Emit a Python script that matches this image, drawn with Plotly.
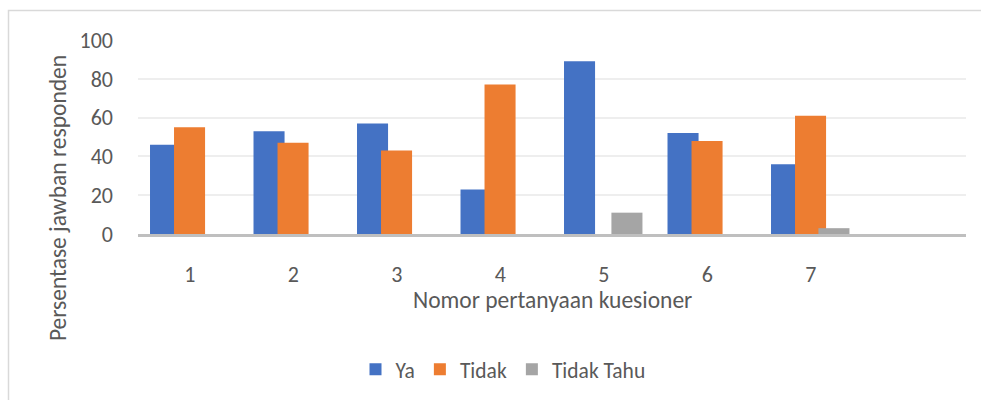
import plotly.graph_objects as go

categories = ["1", "2", "3", "4", "5", "6", "7", " "]
ya = [46, 53, 57, 23, 89, 52, 36, None]
tidak = [55, 47, 43, 77, 0, 48, 61, None]
tidak_tahu = [0, 0, 0, 0, 11, 0, 3, None]
y_ticks = [0, 20, 40, 60, 80, 100]

FONT = "Calibri, Carlito, Lato, sans-serif"
TXT = "#595959"

W, H = 981, 400
L, T = 138, 40
PLOT_BOTTOM = 234.5
B = H - PLOT_BOTTOM
R = 981 - 966
PH = PLOT_BOTTOM - T
PW = W - L - R


def px_x(x):
    return (x - L) / PW


def px_y(y):
    return (PLOT_BOTTOM - y) / PH


fig = go.Figure()
series = [
    ("Ya", ya, "#4472C4", -0.384),
    ("Tidak", tidak, "#ED7D31", -0.152),
    ("Tidak Tahu", tidak_tahu, "#A5A5A5", 0.074),
]
for name, vals, col, off in series:
    fig.add_trace(go.Bar(
        x=categories, y=vals, name=name,
        marker=dict(color=col, line=dict(width=0)),
        width=0.30, offset=off,
    ))

fig.update_layout(
    width=W, height=H,
    barmode="overlay",
    paper_bgcolor="white", plot_bgcolor="white",
    margin=dict(l=L, r=R, t=T, b=B, autoexpand=False),
    font=dict(family=FONT, size=22, color=TXT),
    showlegend=True,
    legend=dict(orientation="h", x=px_x(503), xanchor="center", y=px_y(370), yanchor="middle",
                font=dict(size=21.5, color=TXT), itemwidth=30, traceorder="normal"),
    xaxis=dict(type="category", categoryorder="array", categoryarray=categories,
               range=[-0.5, 7.5], showgrid=False, showline=True, linecolor="#BFBFBF",
               linewidth=3, ticks="", ticklabelstandoff=19,
               tickfont=dict(size=22, color=TXT)),
    yaxis=dict(range=[0, 100], tickvals=y_ticks, showgrid=True, gridcolor="#EEEEEE",
               gridwidth=1.5, zeroline=False, ticks="", ticklabelstandoff=24,
               tickfont=dict(size=22, color=TXT)),
    annotations=[
        dict(text="Nomor pertanyaan kuesioner", xref="paper", yref="paper",
             x=px_x(552), y=px_y(301), xanchor="center", yanchor="middle", showarrow=False,
             font=dict(size=23.5, color=TXT)),
        dict(text="Persentase jawban responden", xref="paper", yref="paper",
             x=px_x(57.5), y=px_y(199), xanchor="center", yanchor="middle", showarrow=False,
             textangle=-90, font=dict(size=23.5, color=TXT)),
    ],
    shapes=[
        dict(type="rect", xref="paper", yref="paper",
             x0=px_x(8.5), x1=px_x(1100),
             y0=px_y(500), y1=px_y(10.5),
             line=dict(color="#D9D9D9", width=1.5), layer="below"),
    ],
)

fig.write_html(
    "out.html",
    config={"displayModeBar": False},
    post_script="document.body.style.margin='0';document.body.style.overflow='hidden';",
)
